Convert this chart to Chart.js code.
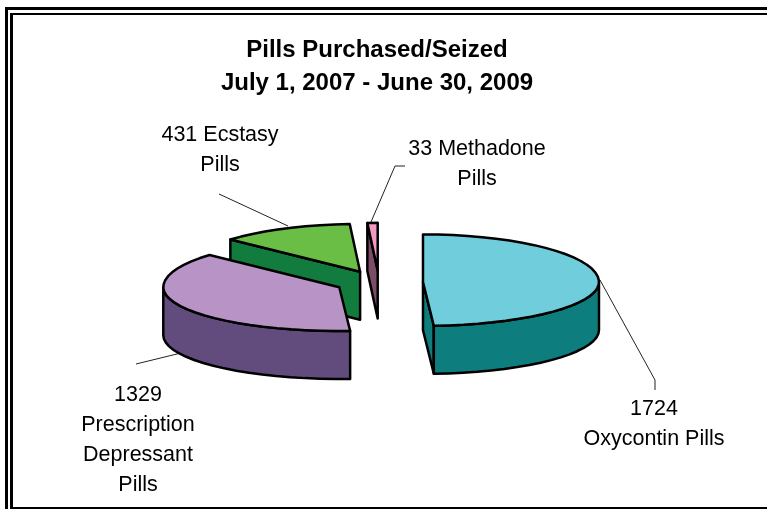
<!DOCTYPE html>
<html>
<head>
<meta charset="utf-8">
<style>html,body{margin:0;padding:0;background:#fff}canvas{display:block}</style>
<script src="https://cdn.jsdelivr.net/npm/chart.js@4"></script>
</head>
<body>
<canvas id="c" width="767" height="509"></canvas>
<script>
const categories = ["Oxycontin Pills", "Prescription Depressant Pills", "Ecstasy Pills", "Methadone Pills"];
const pillCounts = [1724, 1329, 431, 33];
const titleLines = ["Pills Purchased/Seized", "July 1, 2007 - June 30, 2009"];
const topColors = ["#70CDDC", "#B794C5", "#6ABD45", "#F49AC1"];
const sideColors = ["#0D7D7D", "#624C7E", "#127C3E", "#7D4C68"];
const labelLines = [
  ["1724", "Oxycontin Pills"],
  ["1329", "Prescription", "Depressant", "Pills"],
  ["431 Ecstasy", "Pills"],
  ["33 Methadone", "Pills"]
];

// layout / style
const RADIUS = 176, EXPLODE = 44, DEPTH = 48, CENTER_SHIFT = 2;
const K_BACK = 48 / 177, K_FRONT = 44 / 177;
const LABEL_FONT = '21.5px "Liberation Sans", Arial, sans-serif';
const LABEL_LH = 30;
const labelAnchors = [[654, 409], [138, 395], [220, 135], [477, 149]];
const leaders = [
  [[600, 280], [655, 380], [655, 390]],
  [[181, 353], [136, 364]],
  [[288, 226], [219, 194]],
  [[371, 222], [395, 166], [405, 166]]
];

function pt(cx, cy, r, a, dz) {
  const s = Math.sin(a);
  return [cx + r * Math.cos(a), cy + r * s * (s < 0 ? K_BACK : K_FRONT) + (dz || 0)];
}
function arcPts(cx, cy, r, a0, a1, dz) {
  const out = [], n = Math.max(1, Math.ceil((a1 - a0) / (5 * Math.PI / 180)));
  for (let i = 0; i <= n; i++) out.push(pt(cx, cy, r, a0 + (a1 - a0) * i / n, dz));
  return out;
}
function poly(ctx, pts, fill) {
  ctx.beginPath();
  pts.forEach((p, i) => i ? ctx.lineTo(p[0], p[1]) : ctx.moveTo(p[0], p[1]));
  ctx.closePath();
  if (fill) { ctx.fillStyle = fill; ctx.fill(); }
  ctx.stroke();
}

const framePlugin = {
  id: 'frame',
  beforeDraw(chart) {
    const ctx = chart.ctx, W = chart.width, H = chart.height;
    ctx.save();
    ctx.fillStyle = '#000';
    ctx.fillRect(5, 7, W - 5, 3);
    ctx.fillRect(5, 7, 3, H - 7);
    ctx.fillRect(10, 13, W - 10, 2);
    ctx.fillRect(10, 13, 3, H - 13);
    ctx.fillRect(10, 507, W - 10, 2);
    ctx.restore();
  }
};

const pie3d = {
  id: 'pie3d',
  beforeDatasetDraw(chart, args) {
    const ctx = chart.ctx;
    const arcs = chart.getDatasetMeta(args.index).data;
    ctx.save();
    ctx.strokeStyle = '#000';
    ctx.lineWidth = 2.5;
    ctx.lineJoin = 'round';
    // leader lines sit behind the wedges
    ctx.save();
    ctx.lineWidth = 1;
    ctx.strokeStyle = '#222';
    leaders.forEach(l => {
      ctx.beginPath();
      l.forEach((p, i) => i ? ctx.lineTo(p[0], p[1]) : ctx.moveTo(p[0], p[1]));
      ctx.stroke();
    });
    ctx.restore();
    for (let i = arcs.length - 1; i >= 0; i--) {
      const arc = arcs[i], a0 = arc.startAngle, a1 = arc.endAngle, r = arc.outerRadius;
      const mid = (a0 + a1) / 2, off = arc.options.offset;
      const [cx, cy] = pt(arc.x + CENTER_SHIFT, arc.y, off, mid);
      const side = sideColors[i], top = topColors[i];
      // cut faces that look toward the viewer
      if (Math.sin(a0 - Math.PI / 2) > 0.01) {
        const p = pt(cx, cy, r, a0);
        poly(ctx, [[cx, cy], p, [p[0], p[1] + DEPTH], [cx, cy + DEPTH]], side);
      }
      if (Math.sin(a1 + Math.PI / 2) > 0.01) {
        const p = pt(cx, cy, r, a1);
        poly(ctx, [[cx, cy], p, [p[0], p[1] + DEPTH], [cx, cy + DEPTH]], side);
      }
      // outer wall: the part of the rim on the near side
      const from = Math.max(a0, 0), to = Math.min(a1, Math.PI);
      if (to > from) {
        poly(ctx, arcPts(cx, cy, r, from, to, 0).concat(arcPts(cx, cy, r, from, to, DEPTH).reverse()), side);
      }
      // top surface
      poly(ctx, [[cx, cy]].concat(arcPts(cx, cy, r, a0, a1, 0)), top);
    }
    // data labels
    ctx.fillStyle = '#000';
    ctx.font = LABEL_FONT;
    ctx.textAlign = 'center';
    ctx.textBaseline = 'middle';
    labelLines.forEach((lines, i) => {
      lines.forEach((t, j) => ctx.fillText(t, labelAnchors[i][0], labelAnchors[i][1] + j * LABEL_LH));
    });
    ctx.restore();
    return false;
  }
};

new Chart(document.getElementById('c'), {
  type: 'pie',
  data: {
    labels: categories,
    datasets: [{ data: pillCounts, backgroundColor: topColors, offset: EXPLODE, borderWidth: 0 }]
  },
  options: {
    responsive: false,
    animation: false,
    events: [],
    radius: RADIUS,
    layout: { padding: { left: 199, right: 212, top: 34, bottom: 44 } },
    plugins: {
      legend: { display: false },
      tooltip: { enabled: false },
      title: {
        display: true,
        text: titleLines,
        fullSize: false,
        color: '#000',
        font: { family: '"Liberation Sans", Arial, sans-serif', size: 24, weight: 'bold', lineHeight: 1.375 },
        padding: 0
      }
    }
  },
  plugins: [framePlugin, pie3d]
});
</script>
</body>
</html>
